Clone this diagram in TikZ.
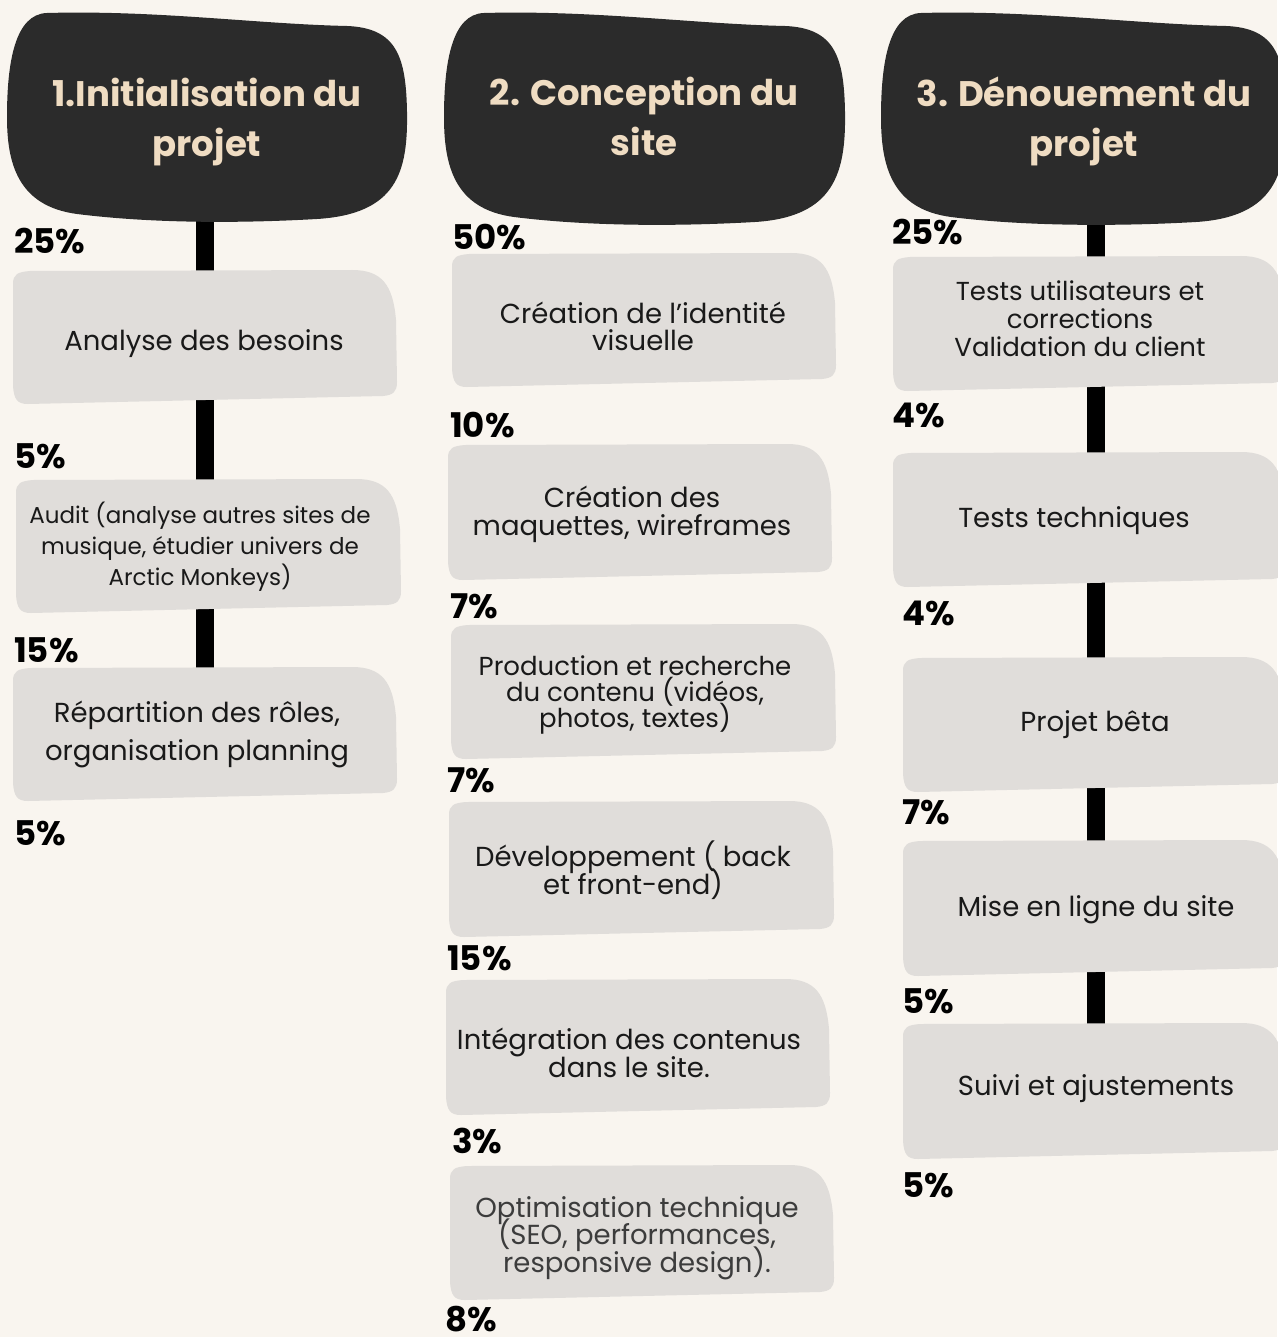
\documentclass[tikz,border=0pt]{standalone}
\usepackage{fontspec}
\setmainfont{Poppins}
\usepackage{tikz}
\usetikzlibrary{backgrounds}

\definecolor{paper}{HTML}{F9F5EF}
\definecolor{ink}{HTML}{2B2B2B}
\definecolor{sand}{HTML}{EFDCC2}
\definecolor{stone}{HTML}{E0DDDA}
\definecolor{slate}{HTML}{3C3C3C}

\lineskiplimit=-\maxdimen

% dark heading shape: x1 y1 x2 y2
\newcommand\headblob[4]{%
        \fill[ink] ({#1+40},{#2+1}) .. controls ({#1+150},{#2-2}) and ({#3-150},{#2+12}) .. ({#3-60},{#2+14})
                .. controls ({#3-10},{#2+16}) and ({#3-1},{#2+45}) .. ({#3},{#2+100})
                .. controls ({#3+1},{#2+160}) and ({#3-10},{#4-8}) .. ({#3-90},{#4-3})
                .. controls ({#3-160},{#4+1}) and ({#1+150},{#4+2}) .. ({#1+70},{#4-8})
                .. controls ({#1+10},{#4-16}) and ({#1},{#4-60}) .. ({#1},{#2+105})
                .. controls ({#1},{#2+50}) and ({#1+8},{#2+2}) .. ({#1+40},{#2+1}) -- cycle;}
% grey task shape: x1 y1 x2 y2
\newcommand\softbox[4]{%
        \fill[stone] ({#1+1},{#2+14}) .. controls ({#1+1},{#2+4}) and ({#1+6},{#2+2}) .. ({#1+18},{#2+1})
                -- ({#3-45},{#2})
                .. controls ({#3-15},{#2}) and ({#3-4},{#2+15}) .. ({#3-1},{#2+50})
                -- ({#3},{#4-22})
                .. controls ({#3},{#4-12}) and ({#3-4},{#4-9}) .. ({#3-14},{#4-8})
                -- ({#1+16},{#4})
                .. controls ({#1+5},{#4}) and ({#1+2},{#4-5}) .. ({#1+1},{#4-18})
                -- cycle;}

\begin{document}
\begin{tikzpicture}[x=1pt, y=-1pt,
        headtxt/.style={text=sand, align=center, inner sep=0pt, font=\bfseries\fontsize{35.5}{50}\selectfont},
        boxtxt/.style={text=black!90, align=center, inner sep=0pt, font=\fontsize{27.5}{28}\selectfont},
        pct/.style={anchor=base west, inner sep=0pt, font=\bfseries\fontsize{34}{34}\selectfont},
        bar/.style={line width=18pt}]
        \useasboundingbox (0,0) rectangle (1277,1337);

        \node[headtxt] (h1) at (207,122) {1.Initialisation du\\projet};
        \node[headtxt] (h2) at (644,116) {2. Conception du\\site};
        \node[headtxt] (h3) at (1084,121) {3. Dénouement du\\projet};

        \node[boxtxt] (a1) at (204,344) {Analyse des besoins};
        \node[boxtxt, font=\fontsize{23}{31}\selectfont] (a2) at (200,547) {Audit (analyse autres sites de\\musique, étudier univers de\\Arctic Monkeys)};
        \node[boxtxt, font=\fontsize{27.5}{38}\selectfont] (a3) at (197,734) {Répartition des rôles,\\organisation planning};

        \node[boxtxt, font=\fontsize{27.5}{27}\selectfont] (b1) at (643,326) {Création de l’identité\\visuelle};
        \node[boxtxt] (b2) at (632,514) {Création des\\maquettes, wireframes};
        \node[boxtxt, font=\fontsize{26}{26}\selectfont] (b3) at (635,695) {Production et recherche\\du contenu (vidéos,\\photos, textes)};
        \node[boxtxt] (b4) at (633,870) {Développement ( back\\et front-end)};
        \node[boxtxt] (b5) at (629,1053) {Intégration des contenus\\dans le site.};
        \node[boxtxt, text=slate, font=\fontsize{27.5}{27.5}\selectfont] (b6) at (637,1238) {Optimisation technique\\(SEO, performances,\\responsive design).};

        \node[boxtxt, font=\fontsize{26}{28}\selectfont] (c1) at (1080,319) {Tests utilisateurs et\\corrections\\Validation du client};
        \node[boxtxt] (c2) at (1074,521) {Tests techniques};
        \node[boxtxt] (c3) at (1095,725) {Projet bêta};
        \node[boxtxt] (c4) at (1096,910) {Mise en ligne du site};
        \node[boxtxt] (c5) at (1096,1089) {Suivi et ajustements};

        \node[pct] (pa1) at (14,254) {25\%};
        \node[pct] (pa2) at (14,468) {5\%};
        \node[pct] (pa3) at (14,662) {15\%};
        \node[pct] (pa4) at (14,845) {5\%};

        \node[pct] (pb1) at (452,250) {50\%};
        \node[pct] (pb2) at (450,437) {10\%};
        \node[pct] (pb3) at (450,618) {7\%};
        \node[pct] (pb4) at (447,792) {7\%};
        \node[pct] (pb5) at (447,970) {15\%};
        \node[pct] (pb6) at (452,1153) {3\%};
        \node[pct] (pb7) at (445,1331) {8\%};

        \node[pct] (pc1) at (892,245) {25\%};
        \node[pct] (pc2) at (892,427) {4\%};
        \node[pct] (pc3) at (902,625) {4\%};
        \node[pct] (pc4) at (902,824) {7\%};
        \node[pct] (pc5) at (902,1013) {5\%};
        \node[pct] (pc6) at (902,1197) {5\%};

        \coordinate (barL) at (205,0);
        \coordinate (barR) at (1096,0);

        \begin{scope}[on background layer]
                \fill[paper] (0,0) rectangle (1277,1337);
                \draw[bar] (barL |- h1.center) -- (barL |- a3.center);
                \draw[bar] (barR |- h3.center) -- (barR |- c5.center);
                \headblob{7}{12}{407}{222}
                \headblob{444}{12}{845}{225}
                \headblob{881}{12}{1286}{225}
                \softbox{12}{270}{397}{404}
                \softbox{15}{479}{401}{613}
                \softbox{12}{667}{397}{801}
                \softbox{451}{253}{836}{387}
                \softbox{447}{444}{832}{580}
                \softbox{450}{624}{836}{759}
                \softbox{448}{801}{834}{937}
                \softbox{445}{979}{830}{1115}
                \softbox{449}{1165}{834}{1300}
                \softbox{892}{256}{1286}{391}
                \softbox{892}{452}{1286}{587}
                \softbox{902}{657}{1286}{792}
                \softbox{902}{840}{1286}{976}
                \softbox{902}{1023}{1286}{1159}
        \end{scope}
\end{tikzpicture}
\end{document}
